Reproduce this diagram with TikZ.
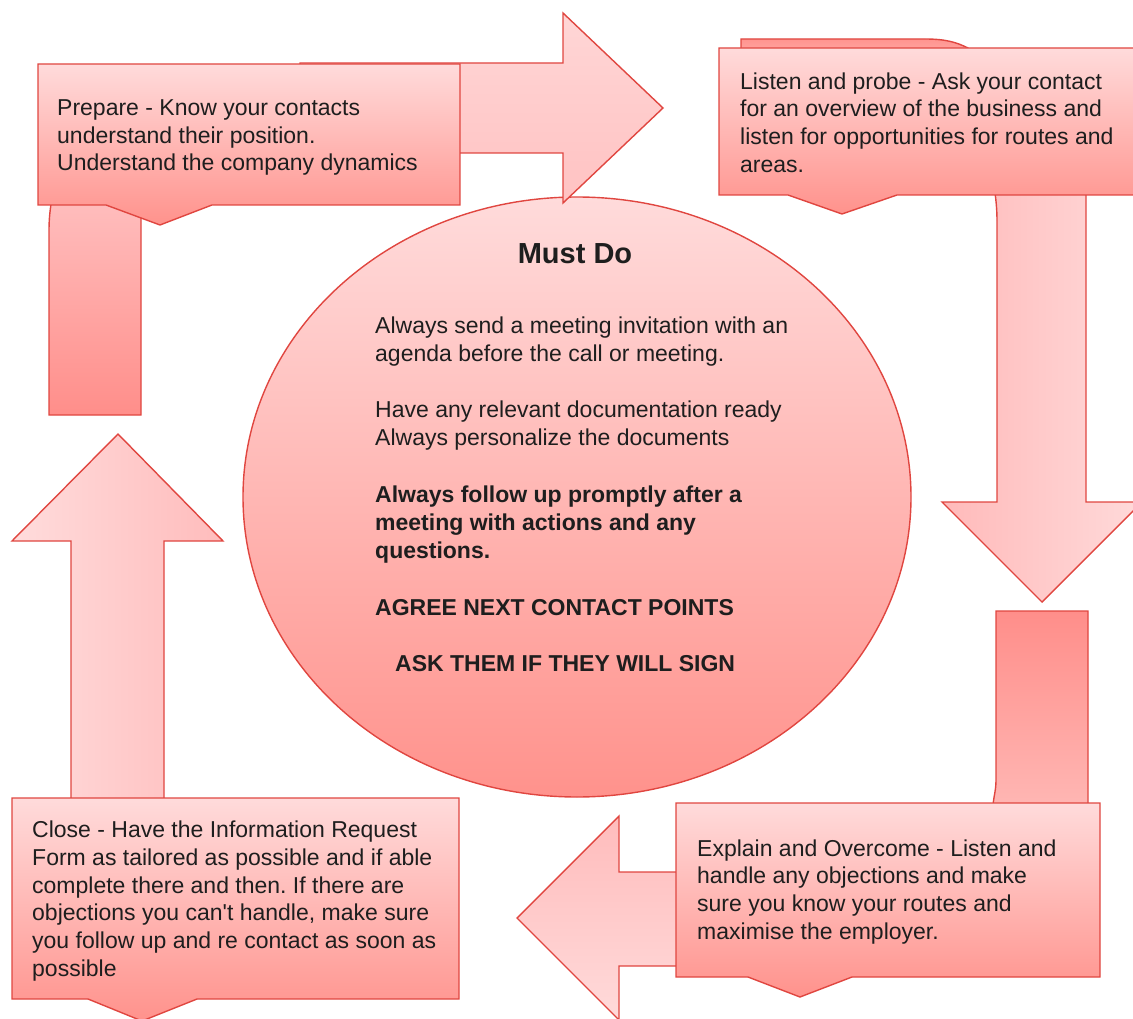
\documentclass[tikz,border=0pt]{standalone}
\usepackage{fontspec}
\setmainfont{Liberation Sans}[Ligatures=TeXOff]
\frenchspacing
\definecolor{edge}{RGB}{224,70,64}
\definecolor{boxtop}{RGB}{255,219,219}
\definecolor{boxbot}{RGB}{255,146,140}
\definecolor{txt}{RGB}{30,30,30}
\tikzset{
  shp/.style={draw=edge, line width=1.4pt, line join=miter},
  boxshade/.style={shp, top color=boxtop, bottom color=boxbot},
  body/.style={anchor=base west, inner sep=0pt, align=left, text=txt,
    font=\fontsize{23}{27.8}\selectfont},
}
\begin{document}
\begin{tikzpicture}[x=1pt,y=-1pt]
\useasboundingbox (0,0) rectangle (1133,1019);
% centre ellipse
\draw[shp, top color=boxtop, bottom color=boxbot] (577,497) ellipse [x radius=334, y radius=300];
% top arrow (right)
\draw[shp, top color={rgb,255:red,255;green,214;blue,214}, bottom color={rgb,255:red,255;green,194;blue,194}]
  (300,63) -- (563,63) -- (563,13) -- (663,108) -- (563,203) -- (563,153) -- (300,153) -- cycle;
% left stub
\draw[shp, top color={rgb,255:red,255;green,190;blue,190}, bottom color={rgb,255:red,255;green,142;blue,138}]
  (49,415) -- (49,232) .. controls (49,218) and (50,210) .. (52,198) -- (141,198) -- (141,415) -- cycle;
% prepare box
\draw[boxshade] (38,64) -- (460,64) -- (460,205) -- (212,205) -- (160,225) -- (106,205) -- (38,205) -- cycle;
% listen tab
\draw[shp, top color={rgb,255:red,255;green,148;blue,143}, bottom color={rgb,255:red,255;green,176;blue,172}]
  (741,60) -- (741,39) -- (925,39) .. controls (945,39) and (956,42) .. (968,48) -- (968,60) -- cycle;
% down arrow (right)
\draw[shp, left color={rgb,255:red,255;green,186;blue,186}, right color={rgb,255:red,255;green,218;blue,218}]
  (994,185) .. controls (996,200) and (997,208) .. (997,222) -- (997,502) -- (942,502) -- (1042,602) -- (1142,502) -- (1086,502) -- (1086,185) -- cycle;
% listen box
\draw[boxshade] (719,48) -- (1145,48) -- (1145,195) -- (897,195) -- (842,214) -- (788,195) -- (719,195) -- cycle;
% right stub
\draw[shp, top color={rgb,255:red,255;green,142;blue,138}, bottom color={rgb,255:red,255;green,182;blue,179}]
  (996,611) -- (1088,611) -- (1088,805) -- (993,805) .. controls (994,795) and (996,790) .. (996,780) -- cycle;
% bottom arrow (left)
\draw[shp, top color={rgb,255:red,255;green,188;blue,188}, bottom color={rgb,255:red,255;green,218;blue,218}]
  (800,872) -- (619,872) -- (619,816) -- (517,918) -- (619,1020) -- (619,966) -- (800,966) -- cycle;
% explain box
\draw[boxshade] (676,803) -- (1100,803) -- (1100,977) -- (852,977) -- (800,997) -- (748,977) -- (676,977) -- cycle;
% up arrow (left)
\draw[shp, left color={rgb,255:red,255;green,220;blue,220}, right color={rgb,255:red,255;green,188;blue,188}]
  (71,805) -- (71,541) -- (12,541) -- (118,434) -- (223,541) -- (164,541) -- (164,805) -- cycle;
% close box
\draw[boxshade] (12,798) -- (459,798) -- (459,999) -- (197,999) -- (142,1021) -- (88,999) -- (12,999) -- cycle;

% texts (base anchor = baseline of last line)
\node[body] (preptext) at (57,171) {Prepare - Know your contacts\\understand their position.\\Understand the company dynamics};
\node[body] (listentext) at (740,172.5) {Listen and probe - Ask your contact\\for an overview of the business and\\listen for opportunities for routes and\\areas.};
\node[body] (explaintext) at (697,939.5) {Explain and Overcome - Listen and\\handle any objections and make\\sure you know your routes and\\maximise the employer.};
\node[body] (closetext) at (32,976.5) {Close - Have the Information Request\\Form as tailored as possible and if able\\complete there and then. If there are\\objections you can't handle, make sure\\you follow up and re contact as soon as\\possible};
\node[anchor=base, inner sep=0pt, text=txt, font=\fontsize{29}{34}\selectfont\bfseries] (mustdo) at (575,264) {Must Do};
\node[body] (p1) at (375,361.5) {Always send a meeting invitation with an\\agenda before the call or meeting.};
\node[body] (p2) at (375,445.5) {Have any relevant documentation ready\\Always personalize the documents};
\node[body, font=\fontsize{23}{27.8}\selectfont\bfseries] (p3) at (375,558) {Always follow up promptly after a\\meeting with actions and any\\questions.};
\node[body, font=\fontsize{23}{27.8}\selectfont\bfseries] (p4) at (375,615) {AGREE NEXT CONTACT POINTS};
\node[body, font=\fontsize{23}{27.8}\selectfont\bfseries] (p5) at (395,671) {ASK THEM IF THEY WILL SIGN};
\end{tikzpicture}
\end{document}
